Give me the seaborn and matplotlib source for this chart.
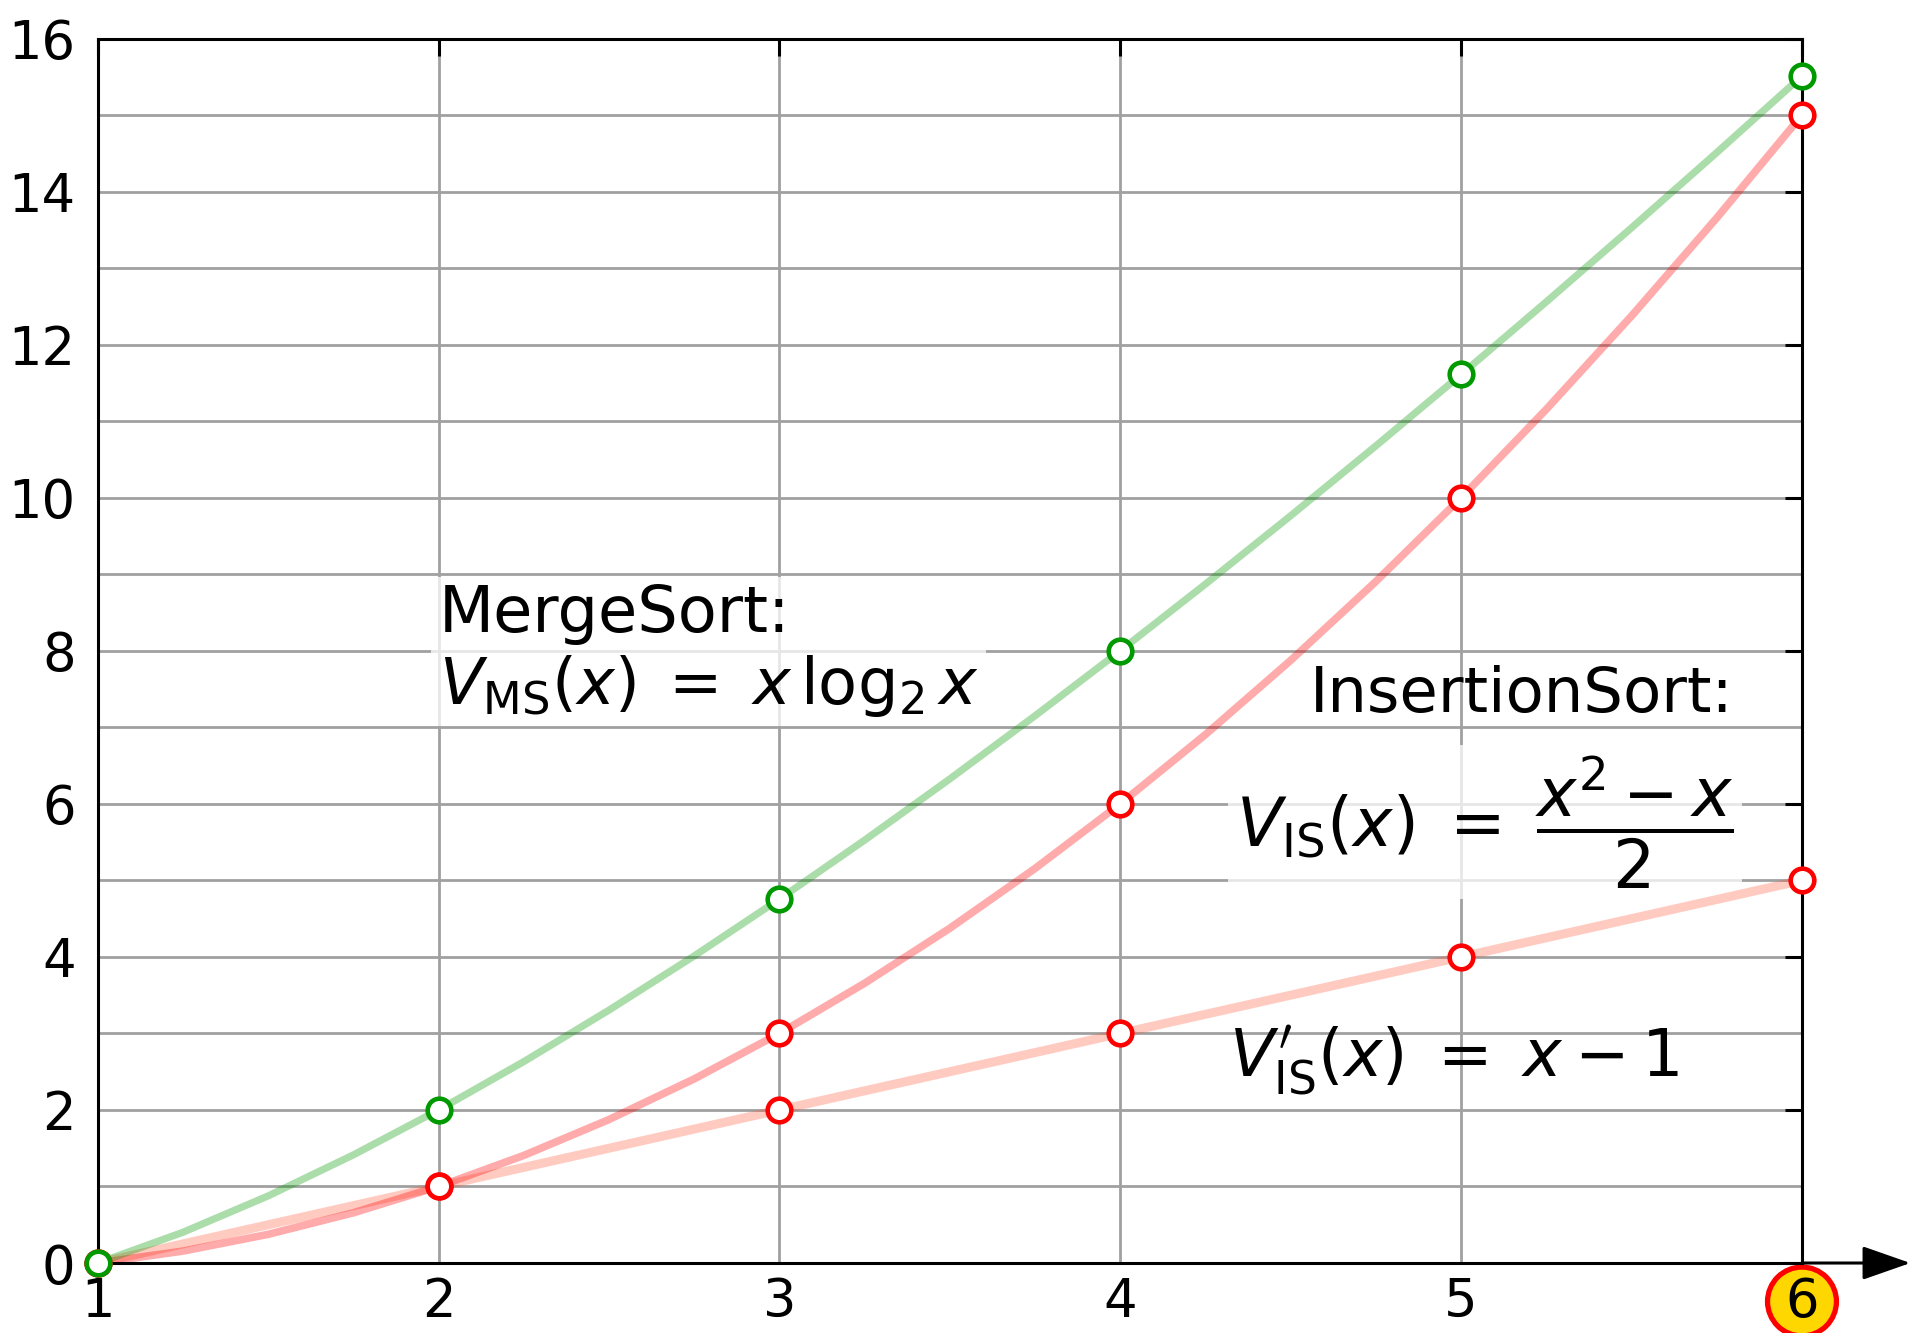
import numpy as np
import seaborn as sns
import matplotlib
matplotlib.use('Agg')
import matplotlib.pyplot as plt
from matplotlib.ticker import MultipleLocator

# %%
# values
n_pts = [1, 2, 3, 4, 5, 6]
ms_pts = [0, 2, 4.75, 8, 11.61, 15.51]      # MergeSort
is_pts = [0, 1, 3, 6, 10, 15]               # InsertionSort
is_lin_pts = [0, 1, 2, 3, 4, 5]             # InsertionSort, linear variant

# curve samples (quarter steps)
x_curve = [1, 1.25, 1.5, 1.75, 2, 2.25, 2.5, 2.75, 3, 3.25, 3.5,
           3.75, 4, 4.25, 4.5, 4.75, 5, 5.25, 5.5, 5.75, 6]
ms_curve = [0, 0.402, 0.877, 1.413, 2, 2.632, 3.305, 4.013, 4.755, 5.526, 6.326,
            7.151, 8, 8.872, 9.765, 10.678, 11.61, 12.56, 13.527, 14.51, 15.51]
is_curve = [0, 0.156, 0.375, 0.656, 1, 1.406, 1.875, 2.406, 3, 3.656, 4.375,
            5.156, 6, 6.906, 7.875, 8.906, 10, 11.156, 12.375, 13.656, 15]

x_ticks = [1, 2, 3, 4, 5, 6]
y_ticks = [0, 2, 4, 6, 8, 10, 12, 14, 16]

label_ms = "MergeSort:\n" + r"$V_{\mathrm{MS}}(x)\;=\;x\,\log_2 x$"
label_is = "InsertionSort:"
formula_is = r"$V_{\mathrm{IS}}(x)\;=\;\dfrac{x^2 - x}{2}$"
formula_lin = r"$V^{\prime}_{\mathrm{IS}}(x)\;=\;x - 1$"

# %%
sns.set_style('white')
plt.rcParams['font.family'] = ['DejaVu Sans']
plt.rcParams['mathtext.fontset'] = 'dejavusans'
plt.rcParams['text.color'] = 'black'
plt.rcParams['xtick.labelcolor'] = 'black'
plt.rcParams['ytick.labelcolor'] = 'black'

green = '#009a00'
red = '#ff0000'
grid_col = '#a0a0a0'

fig = plt.figure(figsize=(19.17, 13.33), dpi=100)
ax = fig.add_axes([0.0510, 0.0525, 0.8890, 0.9186])

# curves
sns.lineplot(x=n_pts, y=is_lin_pts, ax=ax, color='#ff5533', alpha=0.3,
             lw=6.5, zorder=2, solid_capstyle='butt')
sns.lineplot(x=x_curve, y=is_curve, ax=ax, color=red, alpha=0.33,
             lw=5.5, zorder=2.1, solid_capstyle='butt')
sns.lineplot(x=x_curve, y=ms_curve, ax=ax, color=green, alpha=0.33,
             lw=5.2, zorder=2.2, solid_capstyle='butt')

# markers
for ys, col, z in [(is_lin_pts, red, 3), (is_pts, red, 3.1), (ms_pts, green, 3.2)]:
    sns.scatterplot(x=n_pts, y=ys, ax=ax, marker='o', s=17**2,
                    facecolor='white', edgecolor=col, linewidth=3.3,
                    zorder=z, clip_on=False, legend=False)

ax.set_xlim(1, 6)
ax.set_ylim(0, 16)
ax.set_xlabel('')
ax.set_ylabel('')

ax.set_xticks(x_ticks)
ax.set_yticks(y_ticks)
ax.yaxis.set_minor_locator(MultipleLocator(1))
ax.grid(True, which='both', color=grid_col, lw=2)
ax.set_axisbelow(True)

ax.tick_params(axis='both', which='major', direction='in', length=12, width=2.2,
               color='black', labelsize=38, top=True, right=True)
ax.tick_params(axis='y', which='major', pad=16)
ax.tick_params(axis='x', which='major', pad=9)
ax.tick_params(axis='y', which='minor', length=0)

for sp in ax.spines.values():
    sp.set_visible(True)
    sp.set_color('black')
    sp.set_linewidth(2.2)

# highlighted last x tick
last = ax.get_xticklabels()[-1]
last.set_bbox(dict(boxstyle='circle,pad=0.16', fc='#ffd700', ec=red, lw=3.8))

# x axis arrow
ax.annotate('', xy=(6.318, 0), xytext=(6.0, 0), xycoords='data',
            annotation_clip=False,
            arrowprops=dict(arrowstyle='-|>,head_length=1.0,head_width=0.35',
                            mutation_scale=30, lw=2.2, color='black',
                            shrinkA=0, shrinkB=0))

# labels
box = dict(boxstyle='square,pad=0.12', fc='white', ec='none', alpha=0.75)
ax.text(2.0, 8.0, label_ms, fontsize=46, ha='left', va='center',
        linespacing=1.15, bbox=box, zorder=1.5)
ax.text(5.80, 7.2, label_is, fontsize=45, ha='right', va='baseline', zorder=1.5)
ax.text(5.80, 5.76, formula_is, fontsize=48, ha='right', va='center',
        bbox=box, zorder=1.5)
ax.text(4.32, 2.44, formula_lin, fontsize=47, ha='left', va='baseline', zorder=1.5)

fig.savefig('out.png', dpi=100)
